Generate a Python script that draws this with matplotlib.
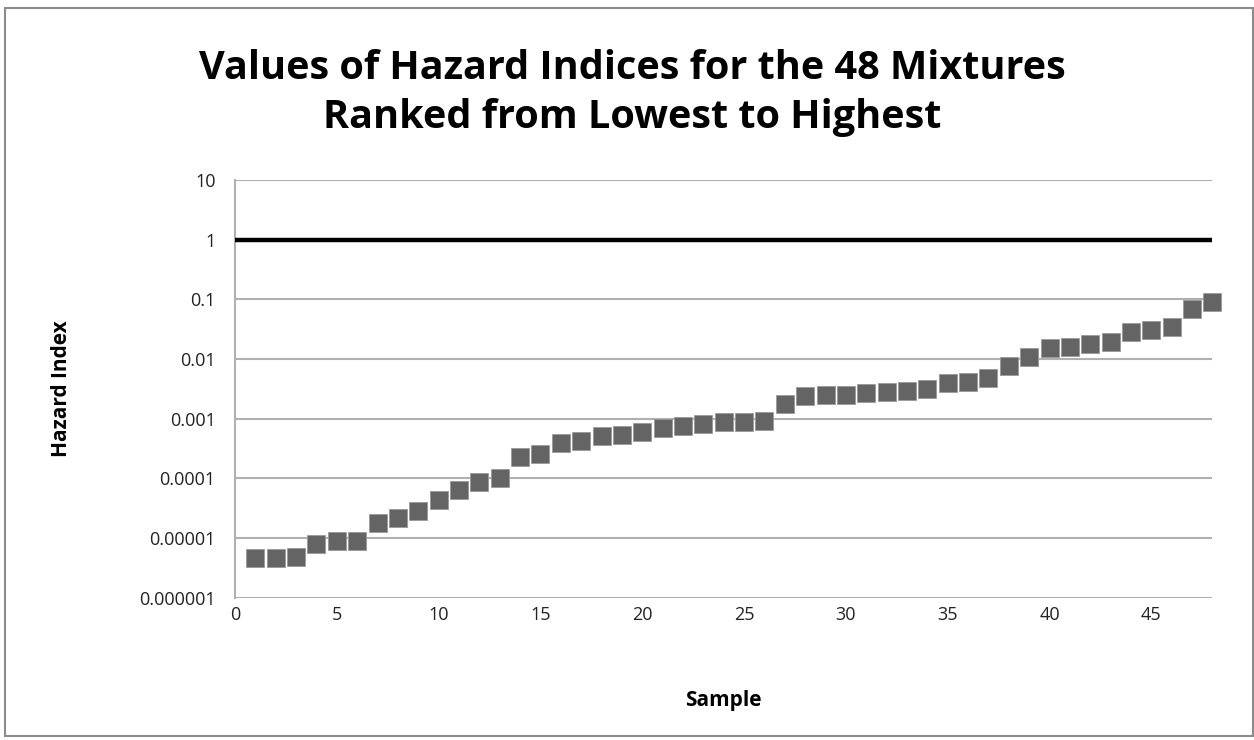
import matplotlib
matplotlib.use("Agg")
import matplotlib.pyplot as plt
from matplotlib.patches import Rectangle
from matplotlib.ticker import FixedLocator, FixedFormatter

samples = list(range(1, 49))
hazard_index = [4.6e-6, 4.6e-6, 4.8e-6, 8.0e-6, 9.0e-6, 9.0e-6, 1.8e-5, 2.2e-5,
                2.8e-5, 4.3e-5, 6.3e-5, 8.6e-5, 1.0e-4, 2.3e-4, 2.6e-4, 3.9e-4,
                4.2e-4, 5.1e-4, 5.4e-4, 5.9e-4, 7.0e-4, 7.5e-4, 8.2e-4, 8.8e-4,
                8.8e-4, 9.0e-4, 1.75e-3, 2.4e-3, 2.5e-3, 2.5e-3, 2.7e-3, 2.8e-3,
                2.9e-3, 3.1e-3, 3.9e-3, 4.2e-3, 4.8e-3, 7.5e-3, 1.1e-2, 1.5e-2,
                1.6e-2, 1.8e-2, 1.9e-2, 2.8e-2, 3.1e-2, 3.5e-2, 6.8e-2, 9.0e-2]
threshold = 1
y_ticks = [1e-6, 1e-5, 1e-4, 1e-3, 1e-2, 1e-1, 1, 10]
y_tick_labels = ["0.000001", "0.00001", "0.0001", "0.001", "0.01", "0.1", "1", "10"]
x_ticks = [0, 5, 10, 15, 20, 25, 30, 35, 40, 45]
title = "Values of Hazard Indices for the 48 Mixtures\nRanked from Lowest to Highest"

plt.rcParams['font.family'] = ['Open Sans', 'DejaVu Sans']

fig = plt.figure(figsize=(12.54, 7.40), dpi=100)
fig.patches.append(Rectangle((0.004, 0.005), 0.9955, 0.984, transform=fig.transFigure,
                             fill=False, edgecolor='#8c8c8c', linewidth=1.5))

ax = fig.add_axes([0.1874, 0.192, 0.7795, 0.565])
ax.set_yscale('log')
ax.set_ylim(1e-6, 10)
ax.set_xlim(0, 48)

ax.yaxis.set_major_locator(FixedLocator(y_ticks))
ax.yaxis.set_major_formatter(FixedFormatter(y_tick_labels))
ax.yaxis.set_minor_locator(FixedLocator([]))
ax.set_xticks(x_ticks)
ax.tick_params(axis='both', length=0, labelsize=13, colors='#222222')
ax.tick_params(axis='y', pad=14)
ax.tick_params(axis='x', pad=6)

ax.grid(axis='y', color='#b0b0b0', linewidth=1.5)
ax.set_axisbelow(True)
for s in ['top', 'right', 'bottom']:
    ax.spines[s].set_visible(False)
ax.spines['left'].set_color('#b0b0b0')
ax.spines['left'].set_linewidth(1.5)

ax.plot([0, 48], [threshold, threshold], color='black', linewidth=3.2, solid_capstyle='butt', zorder=3)
ax.plot(samples, hazard_index, linestyle='none', marker='s', markersize=13.5,
        markerfacecolor='#646464', markeredgecolor='#9a9a9a', markeredgewidth=0.6, zorder=4,
        clip_on=False)

ax.set_xlabel("Sample", fontsize=15, fontweight='bold', labelpad=47)
ax.set_ylabel("Hazard Index", fontsize=15, fontweight='bold', labelpad=48)
fig.text(0.504, 0.874, title, ha='center', va='center', fontsize=28.5, fontweight='bold',
         linespacing=1.35)

fig.savefig("out.png", dpi=100)
